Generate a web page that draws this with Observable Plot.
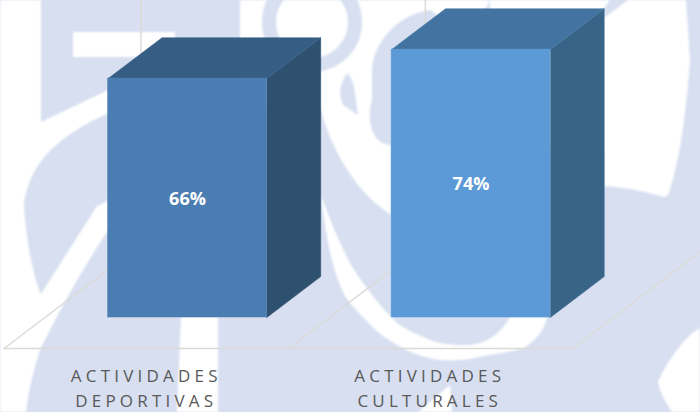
<!DOCTYPE html>
<html>
<head>
<meta charset="utf-8">
<script src="https://cdn.jsdelivr.net/npm/d3@7"></script>
<script src="https://cdn.jsdelivr.net/npm/@observablehq/plot@0.6"></script>
<style>
html,body{margin:0;padding:0;background:#fff;overflow:hidden}
.cat text{letter-spacing:4.2px}
</style>
</head>
<body>
<div id="chart"></div>
<script>
const categories = ["ACTIVIDADES\nDEPORTIVAS", "ACTIVIDADES\nCULTURALES"];
const values = [66, 74];
const valueLabels = ["66%", "74%"];
const frontColors = ["#4a7eb2", "#5b9ad6"];
const topColors = ["#365e85", "#4374a1"];
const sideColors = ["#2d516f", "#386488"];

// Watermark behind the chart (decoration, not data)
const wmBlue = "#d7dff0";
const wmWhite = [
  "M0 0H41V122L140 75V100C60 130 30 160 24 205C26 240 34 280 41 294L97 206L130 190L107 232C75 280 50 330 40 350C32 375 28 395 26 412H0Z",
  "M73 32H175V57H73Z",
  "M240 0V110H321C326 130 345 185 391 215V145C375 145 365 125 372 100L372 70C373 45 395 15 430 10L470 40L490 0Z",
  "M490 0V150H604V186C625 187 645 192 665 197L668 195C677 170 685 130 690 60L686 0Z",
  "M321 195C326 240 335 285 350 303C365 320 375 330 383 336C400 348 415 355 433 359C450 362 470 360 483 356C505 353 520 350 527 346C538 338 545 328 547 317L510 317C503 330 490 343 470 345C450 346 435 342 430 340C415 333 400 328 391 317C375 300 360 280 350 263C338 240 328 215 321 195Z",
  "M181 317L218 317V412H177Z",
  "M450 385L452 412H418Z",
  "M700 328C685 335 665 365 658 382C660 395 668 405 672 412H700Z"
];
const wmBlueShapes = [
  "M347 73C340 85 338 92 343 105L358 115C355 95 355 80 347 73Z",
  "M604 8V18L628 0H610Z"
];
const wmRings = [{cx: 312, cy: 22, r: 43, w: 14}];

const W = 700, H = 412;

function watermark() {
  const g = d3.create("svg:g");
  g.append("rect").attr("width", W).attr("height", H).attr("fill", wmBlue);
  const soft = g.append("g").style("filter", "blur(1px)");
  wmWhite.forEach(d => soft.append("path").attr("d", d).attr("fill", "#fff"));
  wmBlueShapes.forEach(d => soft.append("path").attr("d", d).attr("fill", wmBlue));
  wmRings.forEach(r => soft.append("circle").attr("cx", r.cx).attr("cy", r.cy).attr("r", r.r)
    .attr("fill", "none").attr("stroke", wmBlue).attr("stroke-width", r.w));
  return g.node();
}

const halfBar = 0.28, depthX = 0.19, depthY = 11.3;
const floorY = -8.56, floorLeft = -0.647, floorBackX = 0.483, floorBackY = 28.7, floorStep = 1.003;

const floorLines = [
  [[floorLeft, floorY], [floorLeft + 2 * floorStep, floorY]],
  ...[0, 1, 2].map(i => [
    [floorLeft + i * floorStep, floorY],
    [floorLeft + i * floorStep + floorBackX, floorY + floorBackY],
    [floorLeft + i * floorStep + floorBackX, 88]
  ])
].flatMap((pts, k) => pts.map(([x, y]) => ({x, y, k})));

const barMarks = values.flatMap((v, i) => {
  const l = i - halfBar, r = i + halfBar;
  const side = [[r, 0], [r + depthX, depthY], [r + depthX, v + depthY], [r, v]].map(([x, y]) => ({x, y}));
  const top = [[l, v], [l + depthX, v + depthY], [r + depthX, v + depthY], [r, v]].map(([x, y]) => ({x, y}));
  return [
    Plot.line(side, {x: "x", y: "y", fill: sideColors[i], stroke: sideColors[i], strokeWidth: 0.5, curve: "linear-closed"}),
    Plot.line(top, {x: "x", y: "y", fill: topColors[i], stroke: topColors[i], strokeWidth: 0.5, curve: "linear-closed"}),
    Plot.rect([{l, r, v}], {x1: "l", x2: "r", y1: 0, y2: "v", fill: frontColors[i], stroke: frontColors[i], strokeWidth: 0.5})
  ];
});

const table = categories.map((c, i) => ({i, c, v: values[i], t: valueLabels[i]}));

const plot = Plot.plot({
  width: W, height: H,
  marginTop: 0, marginRight: 0, marginBottom: 0, marginLeft: 0,
  style: {background: "transparent"},
  x: {type: "linear", domain: [-187 / 283.5, (700 - 187) / 283.5], range: [0, W], axis: null},
  y: {type: "linear", domain: [-26.24, 87.57], range: [H, 0], axis: null},
  marks: [
    watermark,
    Plot.line(floorLines, {x: "x", y: "y", z: "k", stroke: "#dcdad6", strokeWidth: 1.4}),
    ...barMarks,
    Plot.text(table, {x: "i", y: d => d.v / 2, dy: 1, text: "t", fill: "#fff", fontWeight: 700, fontSize: 18, fontFamily: "Open Sans"}),
    Plot.text(table, {
      x: d => d.i + floorLeft + floorStep / 2, y: floorY, text: "c", lineAnchor: "top", dy: 15,
      fill: "#595959", fontSize: 17, lineHeight: 1.5, fontFamily: "Open Sans", className: "cat"
    })
  ]
});
document.getElementById("chart").appendChild(plot);
</script>
</body>
</html>
